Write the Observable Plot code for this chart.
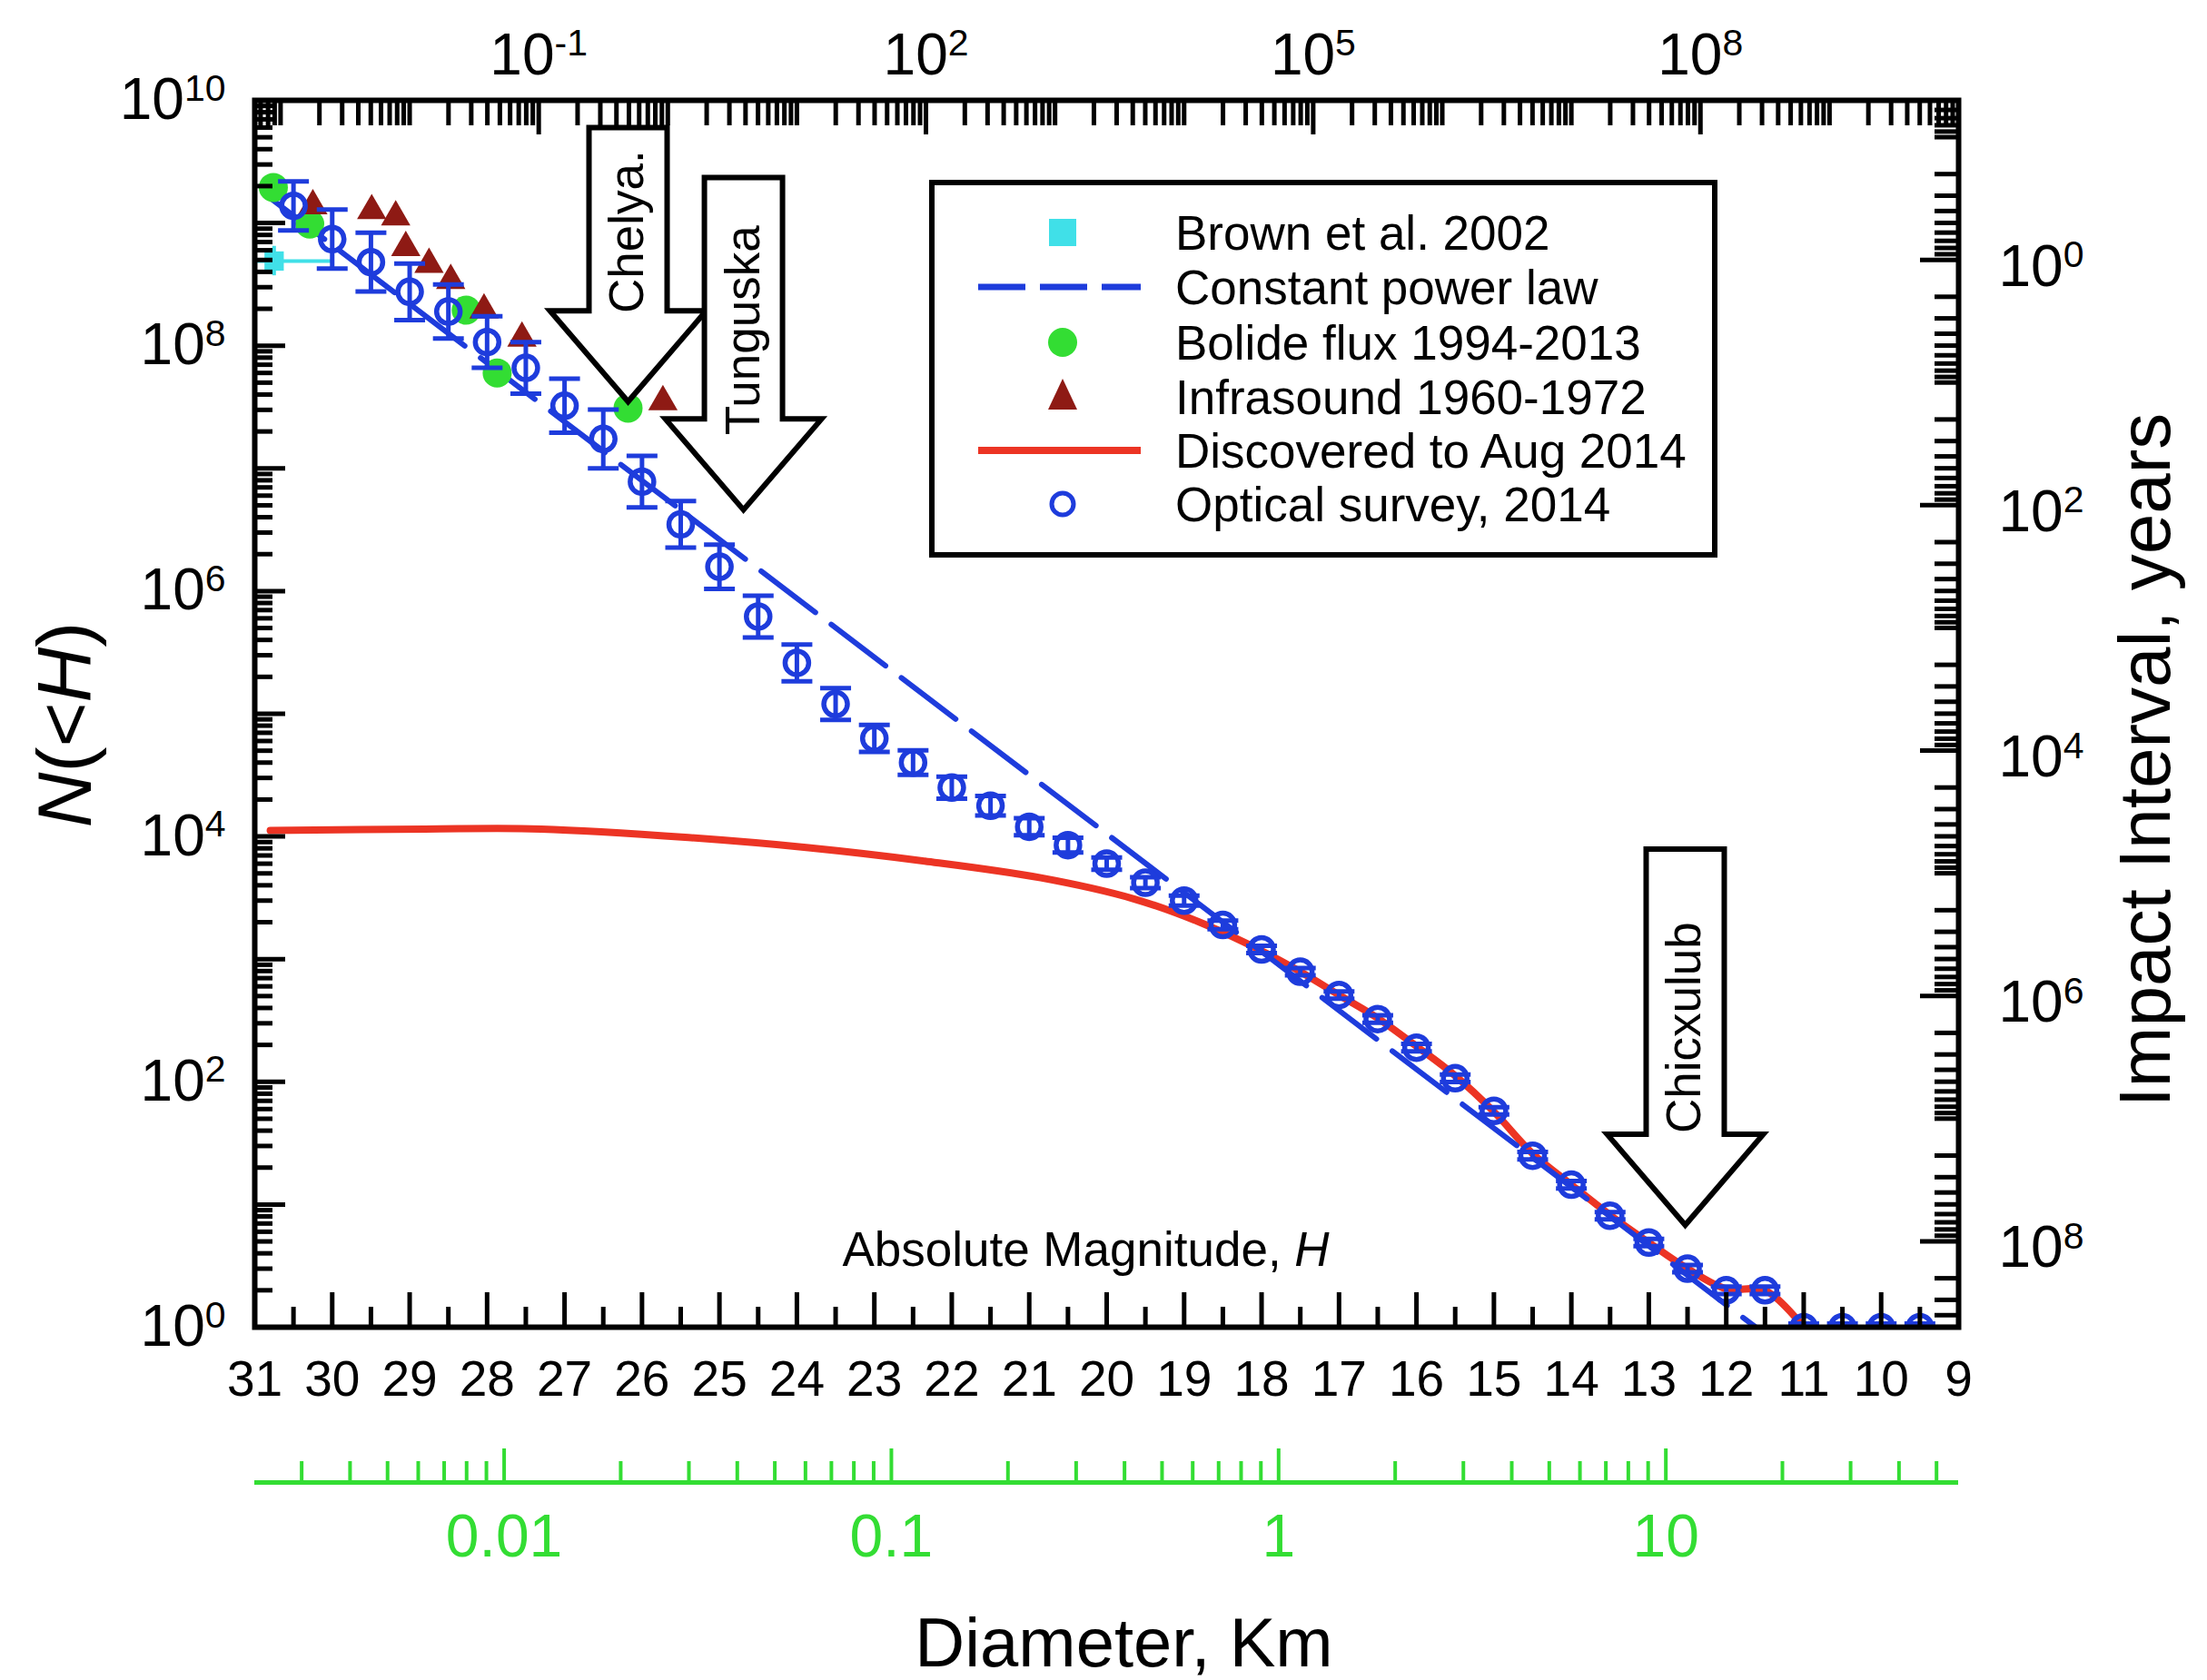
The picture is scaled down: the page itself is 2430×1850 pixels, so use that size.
<!DOCTYPE html>
<html>
<head>
<meta charset="utf-8">
<script src="https://cdn.jsdelivr.net/npm/d3@7"></script>
<script src="https://cdn.jsdelivr.net/npm/@observablehq/plot@0.6"></script>
<style>
  html, body { margin: 0; padding: 0; background: #fff; }
  #wrap { position: relative; width: 2430px; height: 1850px; }
</style>
</head>
<body>
<div id="wrap"></div>
<script>
// ================= DATA =================
// Optical survey, 2014 (blue open circles, with error bars in dex)
const opticalH = [30.5,30,29.5,29,28.5,28,27.5,27,26.5,26,25.5,25,24.5,24,23.5,23,22.5,22,21.5,21,20.5,20,19.5,19,18.5,18,17.5,17,16.5,16,15.5,15,14.5,14,13.5,13,12.5,12,11.5,11,10.5,10,9.5];
const opticalN = [1.38e9,7.4e8,4.8e8,2.75e8,1.9e8,1.07e8,6.6e7,3.24e7,1.74e7,7.8e6,3.5e6,1.58e6,6.2e5,2.6e5,1.2e5,6.3e4,4.0e4,2.5e4,1.78e4,1.2e4,8.5e3,6.0e3,4.2e3,3.0e3,1.9e3,1.2e3,790,510,325,190,107,58,25,14.5,8.1,4.9,3.0,2.0,2.0,1,1,1,1];
const opticalErrDex = [0.20,0.24,0.24,0.23,0.22,0.21,0.21,0.22,0.24,0.21,0.19,0.18,0.17,0.15,0.13,0.11,0.10,0.09,0.08,0.07,0.06,0.05,0.045,0.04,0.035,0.03,0.03,0.03,0.03,0.03,0.03,0.03,0.03,0.03,0.03,0.03,0.03,0.03,0.03,0.03,0.03,0.03,0.03];

// Discovered to Aug 2014 (red line)
const discH = [30.8,28.8,27.3,25.4,23.85,22.35,20.85,19.65,18.8,18.0,17.5,17.0,16.5,16.0,15.5,15.0,14.5,14.0,13.5,13.0,12.5,12.0,11.5,11.0];
const discN = [1.12e4,1.15e4,1.15e4,9.8e3,8.1e3,6.3e3,4.6e3,3.1e3,2.0e3,1.17e3,790,510,330,195,112,57,26,14.5,8.2,4.9,3.0,2.05,2.0,1.0];

// Constant power law (blue dashed line, end points)
const powerLawH = [30.8, 11.62];
const powerLawN = [1.6e9, 1];

// Bolide flux 1994-2013 (green dots)
const bolideH = [30.76, 30.29, 28.27, 27.87, 26.18];
const bolideN = [1.95e9, 9.8e8, 1.95e8, 6.0e7, 3.1e7];

// Infrasound 1960-1972 (dark red triangles)
const infraH = [30.25, 29.49, 29.18, 29.05, 28.75, 28.47, 28.04, 27.55, 25.73];
const infraN = [1.38e9, 1.26e9, 1.12e9, 6.3e8, 4.6e8, 3.4e8, 1.95e8, 1.15e8, 3.5e7];

// Brown et al. 2002 (cyan square with error bars)
const brownH = [30.75];
const brownN = [4.9e8];
const brownHErr = [0.75];
const brownNErrDex = [0.12];

// Annotation arrows
const arrowLabels = ["Chelya.", "Tunguska", "Chicxulub"];
const arrowH = [26.18, 24.69, 12.53];
const arrowTipN = [3.5e7, 4.6e6, 6.8];
const arrowTopN = [6.0e9, 2.35e9, 7.9e3];

// Legend
const legendLabels = ["Brown et al. 2002", "Constant power law", "Bolide flux 1994-2013", "Infrasound 1960-1972", "Discovered to Aug 2014", "Optical survey, 2014"];

// Axis ticks / calibrations
const hTicks = [31,30,29,28,27,26,25,24,23,22,21,20,19,18,17,16,15,14,13,12,11,10,9];
const yDecadeExps = [0,1,2,3,4,5,6,7,8,9,10];
const yLabelExps = [0,2,4,6,8,10];
const energyLabelExps = [-1, 2, 5, 8];          // top axis labels (10^n)
const intervalLabelExps = [0, 2, 4, 6, 8];      // right axis labels (years)
const diamLabels = [0.01, 0.1, 1, 10];          // green diameter axis (km)
const H_AT_1KM = 17.78;      // H where diameter = 1 km
const LOGE_AT_H0 = 15.40;    // top axis: log10(E) = LOGE_AT_H0 - 0.6 H
const LOGN_AT_1YR = 8.70;    // right axis: interval = 10^LOGN_AT_1YR / N

// ================= BUILD =================
const optical = opticalH.map((H, i) => ({H, N: opticalN[i], err: opticalErrDex[i]}));
const disc = discH.map((H, i) => ({H, N: discN[i]}));
const powerLaw = powerLawH.map((H, i) => ({H, N: powerLawN[i]}));
const bolide = bolideH.map((H, i) => ({H, N: bolideN[i]}));
const infra = infraH.map((H, i) => ({H, N: infraN[i]}));
const brown = brownH.map((H, i) => ({H, N: brownN[i], hErr: brownHErr[i], nErr: brownNErrDex[i]}));
const arrows = arrowLabels.map((label, i) => ({label, H: arrowH[i], tip: arrowTipN[i], top: arrowTopN[i]}));

// style: where each arrow's label sits, as a fraction of the arrow length above its tip
const arrowTextFrac = {"Chelya.": 0.62, "Tunguska": 0.54, "Chicxulub": 0.525};

const W = 2430, HT = 1850, mL = 280, mR = 274, mT = 110, mB = 389;
const innerW = W - mL - mR, innerH = HT - mT - mB;
const pxPerDex = innerH / 10;

const pow10 = e => "10^" + e;   // turned into a superscript after rendering

const HofE = e => (LOGE_AT_H0 - e) / 0.6;
const HofD = d => H_AT_1KM - 5 * Math.log10(d);
const NofI = li => Math.pow(10, LOGN_AT_1YR - li);

// tick lists
const bottomMinor = hTicks.slice(1).map(h => h + 0.5);
const leftMajor = yDecadeExps.map(e => 10 ** e);
const leftMinor = [];
for (let e = 0; e < 10; e++) for (let m = 2; m <= 9; m++) leftMinor.push(m * 10 ** e);

const eMin = LOGE_AT_H0 - 0.6 * 31, eMax = LOGE_AT_H0 - 0.6 * 9;
const topLong = energyLabelExps.map(HofE);
const topShort = [];
for (let e = -5; e <= 11; e++) for (let m = 1; m <= 9; m++) {
  const le = e + Math.log10(m);
  if (le < eMin - 1e-9 || le > eMax + 1e-6) continue;
  if (m === 1 && energyLabelExps.includes(e)) continue;
  topShort.push(HofE(le));
}
const liMin = LOGN_AT_1YR - 10, liMax = LOGN_AT_1YR;
const rightLong = intervalLabelExps.map(NofI);
const rightShort = [];
for (let e = -3; e <= 9; e++) for (let m = 1; m <= 9; m++) {
  const li = e + Math.log10(m);
  if (li < liMin || li > liMax) continue;
  if (m === 1 && intervalLabelExps.includes(e)) continue;
  rightShort.push(NofI(li));
}
const dMin = 10 ** ((H_AT_1KM - 31) / 5), dMax = 10 ** ((H_AT_1KM - 9) / 5);
const diamMinor = [];
for (let e = -4; e <= 2; e++) for (let m = 2; m <= 9; m++) {
  const d = m * 10 ** e;
  if (d >= dMin && d <= dMax) diamMinor.push(d);
}

const cap = {draw(ctx) { ctx.moveTo(-17, 0); ctx.lineTo(17, 0); }};
function blockArrow(len) {
  const sw = 43, hw = 86, hl = 100;
  return {draw(ctx) {
    ctx.moveTo(0, 0); ctx.lineTo(-hw, -hl); ctx.lineTo(-sw, -hl); ctx.lineTo(-sw, -len);
    ctx.lineTo(sw, -len); ctx.lineTo(sw, -hl); ctx.lineTo(hw, -hl); ctx.closePath();
  }};
}
const arrowLen = a => (Math.log10(a.top) - Math.log10(a.tip)) * pxPerDex;

const BLUE = "#1e3cdc", RED = "#ec3424", GREEN = "#33dd33", DARKRED = "#8e1a14", CYAN = "#40e0e8";
const TK = 5;
const lo = d => d.N * 10 ** (-d.err), hi = d => d.N * 10 ** d.err;

const chart = Plot.plot({
  width: W, height: HT,
  marginLeft: mL, marginRight: mR, marginTop: mT, marginBottom: mB,
  style: {fontFamily: "'Liberation Sans', Arial, sans-serif", fontSize: "54px", background: "white", color: "black", overflow: "visible"},
  x: {type: "linear", domain: [31, 9], label: null},
  y: {type: "log", domain: [1, 1e10], label: null},
  marks: [
    Plot.line(disc, {x: "H", y: "N", stroke: RED, strokeWidth: 8, curve: "catmull-rom", clip: true}),
    Plot.line(powerLaw, {x: "H", y: "N", stroke: BLUE, strokeWidth: 6, strokeDasharray: "75 22", clip: true}),
    Plot.ruleY(brown, {y: "N", x1: d => d.H - d.hErr, x2: d => d.H + d.hErr, stroke: CYAN, strokeWidth: 4, clip: true}),
    Plot.ruleX(brown, {x: "H", y1: d => d.N * 10 ** (-d.nErr), y2: d => d.N * 10 ** d.nErr, stroke: CYAN, strokeWidth: 4, clip: true}),
    Plot.dot(brown, {x: "H", y: "N", symbol: "square", r: 12, fill: CYAN, clip: true}),
    Plot.dot(bolide, {x: "H", y: "N", r: 16, fill: GREEN, clip: true}),
    Plot.dot(infra, {x: "H", y: "N", symbol: "triangle", r: 12, fill: DARKRED, clip: true}),
    Plot.ruleX(optical, {x: "H", y1: lo, y2: hi, stroke: BLUE, strokeWidth: 5, clip: true}),
    Plot.dot(optical, {x: "H", y: lo, symbol: cap, fill: "none", stroke: BLUE, strokeWidth: 5, clip: true}),
    Plot.dot(optical, {x: "H", y: hi, symbol: cap, fill: "none", stroke: BLUE, strokeWidth: 5, clip: true}),
    Plot.dot(optical, {x: "H", y: "N", r: 13, fill: "none", stroke: BLUE, strokeWidth: 5.5, clip: true}),
    ...arrows.map(a => Plot.dot([a], {x: "H", y: "tip", symbol: blockArrow(arrowLen(a)), fill: "white", stroke: "black", strokeWidth: 6, strokeLinejoin: "miter"})),
    ...arrows.map(a => Plot.text([a], {x: "H", y: "tip", text: "label", rotate: -90, textAnchor: "middle", dy: -arrowTextFrac[a.label] * arrowLen(a), fontSize: 53})),
    // inward ticks
    Plot.tickX(hTicks, {x: d => d, insetTop: innerH - 38, stroke: "black", strokeWidth: TK}),
    Plot.tickX(bottomMinor, {x: d => d, insetTop: innerH - 22, stroke: "black", strokeWidth: TK}),
    Plot.tickY(leftMajor, {y: d => d, insetRight: innerW - 34, stroke: "black", strokeWidth: TK}),
    Plot.tickY(leftMinor, {y: d => d, insetRight: innerW - 20, stroke: "black", strokeWidth: TK}),
    Plot.tickX(topLong, {x: d => d, insetBottom: innerH - 38, stroke: "black", strokeWidth: TK}),
    Plot.tickX(topShort, {x: d => d, insetBottom: innerH - 28, stroke: "black", strokeWidth: TK}),
    Plot.tickY(rightLong, {y: d => d, insetLeft: innerW - 42, stroke: "black", strokeWidth: TK}),
    Plot.tickY(rightShort, {y: d => d, insetLeft: innerW - 26, stroke: "black", strokeWidth: TK}),
    Plot.frame({stroke: "black", strokeWidth: 6}),
    // axes labels
    Plot.axisX(hTicks, {anchor: "bottom", tickSize: 0, tickPadding: 36, fontSize: 55, tickFormat: d => String(d), label: null}),
    Plot.axisY(yLabelExps.map(e => 10 ** e), {anchor: "left", tickSize: 0, tickPadding: 32, fontSize: 64, tickFormat: d => pow10(Math.round(Math.log10(d))), label: null}),
    Plot.text(energyLabelExps, {x: e => HofE(e), frameAnchor: "top", dy: -29, lineAnchor: "bottom", text: e => pow10(e), fontSize: 64}),
    Plot.text(intervalLabelExps, {y: li => NofI(li), frameAnchor: "right", dx: 44, dy: 8, textAnchor: "start", text: li => pow10(li), fontSize: 64}),
    // green diameter axis
    Plot.ruleY([1], {dy: 171, stroke: GREEN, strokeWidth: 5}),
    Plot.tickX(diamLabels, {x: d => HofD(d), insetTop: innerH - 37, dy: 171, stroke: GREEN, strokeWidth: 4}),
    Plot.tickX(diamMinor, {x: d => HofD(d), insetTop: innerH - 23, dy: 171, stroke: GREEN, strokeWidth: 4}),
    Plot.text(diamLabels, {x: d => HofD(d), frameAnchor: "bottom", dy: 206, lineAnchor: "top", text: d => String(d), fill: GREEN, fontSize: 66}),
    // titles
    Plot.text(["Absolute Magnitude, H"], {text: d => d, frameAnchor: "bottom", textAnchor: "middle", dx: -23, dy: -68, lineAnchor: "bottom", fontSize: 53}),
    Plot.text(["Diameter, Km"], {text: d => d, frameAnchor: "bottom", textAnchor: "middle", dx: 19, dy: 373, lineAnchor: "bottom", fontSize: 76}),
    Plot.text(["N(<H)"], {text: d => d, frameAnchor: "left", textAnchor: "middle", dx: -207, dy: 12, rotate: -90, fontSize: 84}),
    Plot.text(["Impact Interval, years"], {text: d => d, frameAnchor: "right", textAnchor: "middle", dx: 207, dy: 51, rotate: -90, fontSize: 80})
  ]
});

const wrap = document.getElementById("wrap");
wrap.appendChild(chart);

// rich text: italics and superscripts
const texts = d3.select(chart).selectAll("text");
texts.filter(function () { return this.textContent === "N(<H)"; })
  .html('<tspan font-style="italic">N</tspan>(&lt;<tspan font-style="italic">H</tspan>)');
texts.filter(function () { return this.textContent === "Absolute Magnitude, H"; })
  .html('Absolute Magnitude, <tspan font-style="italic">H</tspan>');
texts.each(function () {
  const m = /^10\^(-?\d+)$/.exec(this.textContent);
  if (m) this.innerHTML = `10<tspan dy="-0.5em" font-size="0.64em">${m[1]}</tspan>`;
});

// ================= LEGEND (overlay box) =================
const LW = 868, LH = 416;
const lg = d3.create("svg").attr("width", LW).attr("height", LH)
  .style("position", "absolute").style("left", "1023px").style("top", "198px")
  .style("font-family", "'Liberation Sans', Arial, sans-serif");
lg.append("rect").attr("x", 3).attr("y", 3).attr("width", LW - 6).attr("height", LH - 6)
  .attr("fill", "white").attr("stroke", "black").attr("stroke-width", 6);
const rowY = [58, 118, 179, 239, 298, 357];
const sx = 147, lx1 = 54, lx2 = 233;
lg.append("rect").attr("x", sx - 15).attr("y", rowY[0] - 15).attr("width", 30).attr("height", 30).attr("fill", CYAN);
lg.append("line").attr("x1", lx1).attr("x2", lx2).attr("y1", rowY[1]).attr("y2", rowY[1])
  .attr("stroke", BLUE).attr("stroke-width", 7).attr("stroke-dasharray", "52 16");
lg.append("circle").attr("cx", sx).attr("cy", rowY[2]).attr("r", 16).attr("fill", GREEN);
lg.append("path").attr("d", `M${sx},${rowY[3] - 20}L${sx - 16},${rowY[3] + 14}L${sx + 16},${rowY[3] + 14}Z`).attr("fill", DARKRED);
lg.append("line").attr("x1", lx1).attr("x2", lx2).attr("y1", rowY[4]).attr("y2", rowY[4])
  .attr("stroke", RED).attr("stroke-width", 8);
lg.append("circle").attr("cx", sx).attr("cy", rowY[5]).attr("r", 12).attr("fill", "none").attr("stroke", BLUE).attr("stroke-width", 5);
lg.selectAll("text.lab").data(legendLabels).join("text").attr("class", "lab")
  .attr("x", 271).attr("y", (d, i) => rowY[i]).attr("dy", "0.36em")
  .attr("font-size", 53).attr("fill", "black").text(d => d);
wrap.appendChild(lg.node());
</script>
</body>
</html>
